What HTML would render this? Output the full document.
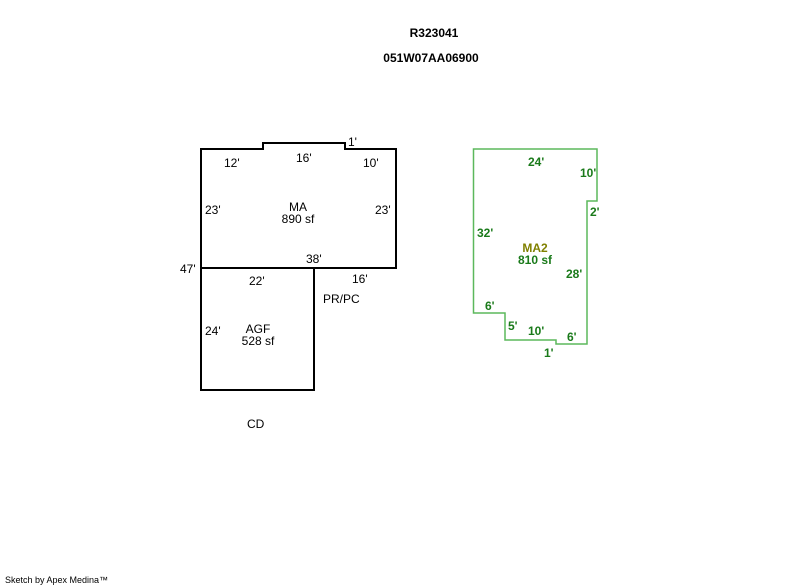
<!DOCTYPE html>
<html><head><style>
body{margin:0;width:800px;height:587px;background:#fff;overflow:hidden;position:relative;font-family:"Liberation Sans",Arial,sans-serif}
</style></head><body>
<svg width="800" height="587" xmlns="http://www.w3.org/2000/svg" style="position:absolute;left:0;top:0">
<g font-family="Liberation Sans, Arial, sans-serif">
<text x="434" y="37" font-size="12" font-weight="bold" text-anchor="middle">R323041</text>
<text x="431" y="62" font-size="12" font-weight="bold" text-anchor="middle">051W07AA06900</text>
<g fill="none" stroke="#000" stroke-width="2">
<path d="M201,149 H263 V143 H345 V149 H396 V268 H201 Z"/>
<path d="M201,268 V390 H314 V268"/>
</g>
<g font-size="12" fill="#000">
<text x="224" y="167">12'</text>
<text x="296" y="162">16'</text>
<text x="348" y="146">1'</text>
<text x="363" y="167">10'</text>
<text x="205" y="214">23'</text>
<text x="375" y="214">23'</text>
<text x="298" y="211" text-anchor="middle">MA</text>
<text x="298" y="223" text-anchor="middle">890 sf</text>
<text x="306" y="263">38'</text>
<text x="180" y="273">47'</text>
<text x="249" y="285">22'</text>
<text x="352" y="283">16'</text>
<text x="323" y="303">PR/PC</text>
<text x="205" y="335">24'</text>
<text x="258" y="333" text-anchor="middle">AGF</text>
<text x="258" y="345" text-anchor="middle">528 sf</text>
<text x="247" y="428">CD</text>
</g>
<path d="M473.5,149 H597 V201 H587 V344 H556 V340 H505 V313 H473.5 Z" fill="none" stroke="#5cb85c" stroke-width="1.5"/>
<g font-size="12" font-weight="bold" fill="#1a7a1a">
<text x="528" y="166">24'</text>
<text x="580" y="177">10'</text>
<text x="590" y="216">2'</text>
<text x="477" y="237">32'</text>
<text x="535" y="252" text-anchor="middle" fill="#808000">MA2</text>
<text x="535" y="264" text-anchor="middle">810 sf</text>
<text x="566" y="278">28'</text>
<text x="485" y="310">6'</text>
<text x="508" y="330">5'</text>
<text x="528" y="335">10'</text>
<text x="567" y="341">6'</text>
<text x="544" y="357">1'</text>
</g>
<text x="5" y="583" font-size="9">Sketch by Apex Medina™</text>
</g>
</svg>
</body></html>
